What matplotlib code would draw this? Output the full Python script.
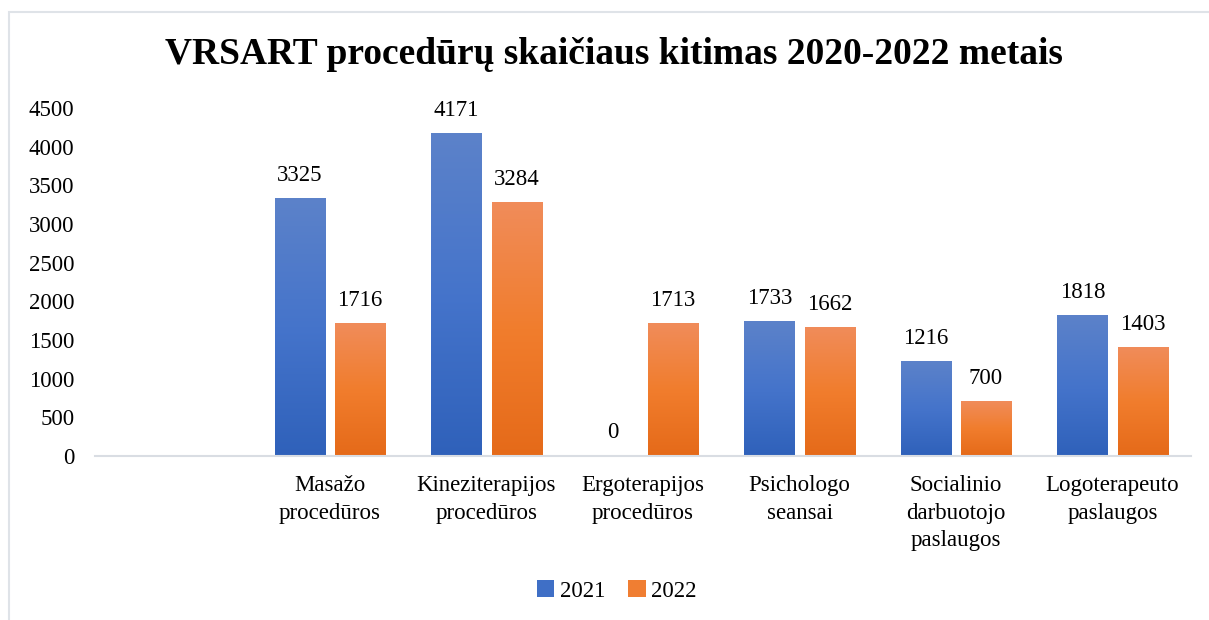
import numpy as np
import matplotlib.pyplot as plt
from matplotlib.colors import LinearSegmentedColormap
from matplotlib.patches import Rectangle, Patch

categories = ["", "Masažo\nprocedūros", "Kineziterapijos\nprocedūros", "Ergoterapijos\nprocedūros",
              "Psichologo\nseansai", "Socialinio\ndarbuotojo\npaslaugos", "Logoterapeuto\npaslaugos"]
values_2021 = [None, 3325, 4171, 0, 1733, 1216, 1818]
values_2022 = [None, 1716, 3284, 1713, 1662, 700, 1403]
series_names = ["2021", "2022"]

blue_cmap = LinearSegmentedColormap.from_list("blue", ["#2f61ba", "#4574cb", "#5c82c9"])
orange_cmap = LinearSegmentedColormap.from_list("orange", ["#e56a19", "#f17d2d", "#f08c5a"])

plt.rcParams['font.family'] = ['Liberation Serif', 'DejaVu Serif']

fig = plt.figure(figsize=(12.09, 6.20), dpi=100)
ax = fig.add_axes([95.25 / 1209, 1 - 456 / 620, 1095.5 / 1209, 348 / 620])

# light frame round the chart
fig.patches.append(Rectangle((9 / 1209, -0.1), 1.2, 1 - 12 / 620 + 0.1, transform=fig.transFigure,
                             fill=False, edgecolor="#dfe3e8", linewidth=1.5))

ymax = 4500
bar_w = 0.3195
off = 0.1917
grad = np.linspace(0, 1, 256).reshape(-1, 1)

def gradient_bar(x, h, cmap):
  x0 = x - bar_w / 2
  if h > 0:
    ax.imshow(grad, cmap=cmap, extent=[x0, x0 + bar_w, 0, h], origin="lower",
              aspect="auto", zorder=2, interpolation="bilinear", vmin=0, vmax=1)
  ax.annotate(str(h), (x, h), xytext=(0, 9), textcoords="offset points",
              ha="center", va="bottom", fontsize=16.5)

for i in range(len(categories)):
  if values_2021[i] is None:
    continue
  gradient_bar(i - off, values_2021[i], blue_cmap)
  gradient_bar(i + off, values_2022[i], orange_cmap)

ax.set_xlim(-0.5, len(categories) - 0.5)
ax.set_ylim(0, ymax)
ax.set_yticks(np.arange(0, ymax + 1, 500))
ax.set_xticks(range(len(categories)))
ax.set_xticklabels(categories, fontsize=16.5, linespacing=1.4)
ax.tick_params(axis="y", labelsize=16.5, length=0, pad=15)
ax.tick_params(axis="x", length=0, pad=14)
for s in ["top", "right", "left"]:
  ax.spines[s].set_visible(False)
ax.spines["bottom"].set_color("#d9dde3")
ax.spines["bottom"].set_linewidth(1.5)

fig.text(614 / 1209, 1 - 55 / 620, "VRSART procedūrų skaičiaus kitimas 2020-2022 metais",
         ha="center", va="center", fontsize=27, fontweight="bold")

handles = [Patch(facecolor="#3f6fc6"), Patch(facecolor="#f07e32")]
fig.legend(handles, series_names, loc="center", bbox_to_anchor=(617 / 1209, 1 - 591 / 620),
           ncol=2, frameon=False, fontsize=16.5, handlelength=0.75, handleheight=0.75,
           handletextpad=0.25, columnspacing=1.0)

fig.savefig("out.png", dpi=100)
